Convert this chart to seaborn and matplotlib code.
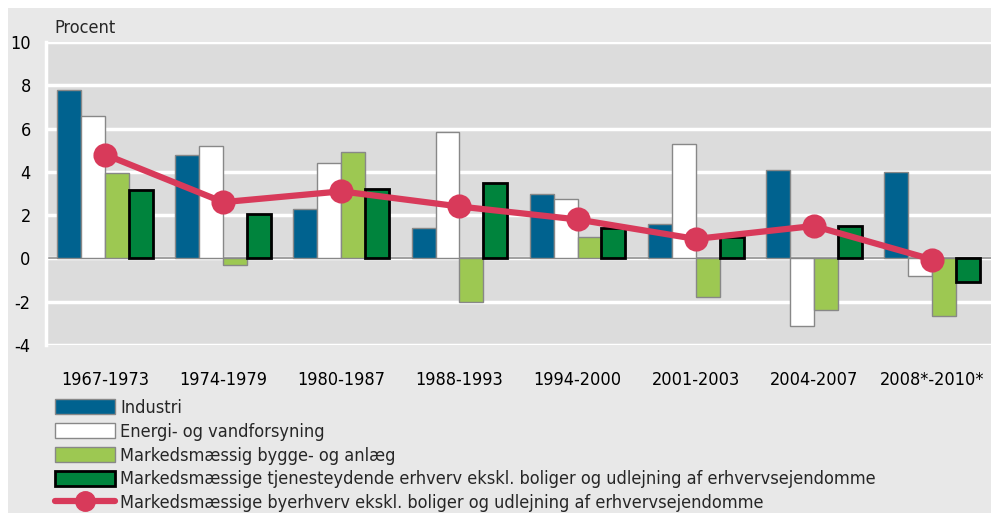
import matplotlib
matplotlib.use("Agg")
import matplotlib.pyplot as plt
import matplotlib.patches as mpatches
from matplotlib.lines import Line2D
import seaborn as sns
import pandas as pd

periods = ["1967-1973", "1974-1979", "1980-1987", "1988-1993",
           "1994-2000", "2001-2003", "2004-2007", "2008*-2010*"]

industri = [7.8, 4.8, 2.3, 1.4, 3.0, 1.6, 4.1, 4.0]
energi = [6.6, 5.2, 4.4, 5.85, 2.75, 5.3, -3.1, -0.8]
bygge = [3.95, -0.3, 4.9, -2.0, 1.0, -1.8, -2.4, -2.65]
tjeneste = [3.15, 2.05, 3.2, 3.5, 1.4, 1.0, 1.5, -1.1]
byerhverv = [4.8, 2.6, 3.1, 2.4, 1.8, 0.9, 1.5, -0.05]

names = ["Industri",
         "Energi- og vandforsyning",
         "Markedsmæssig bygge- og anlæg",
         "Markedsmæssige tjenesteydende erhverv ekskl. boliger og udlejning af erhvervsejendomme"]
line_name = "Markedsmæssige byerhverv ekskl. boliger og udlejning af erhvervsejendomme"

colors = ["#00628f", "#ffffff", "#9dc852", "#00843d"]
line_color = "#d83a5a"

df = pd.DataFrame({"periode": periods * 4,
                   "serie": sum([[n] * len(periods) for n in names], []),
                   "vaerdi": industri + energi + bygge + tjeneste})

sns.set_style("white")
plt.rcParams['font.family'] = ['DejaVu Sans']
plt.rcParams['font.stretch'] = 'condensed'
plt.rcParams['axes.unicode_minus'] = False

fig = plt.figure(figsize=(9.91, 5.13), dpi=100)
fig.patch.set_facecolor("white")
fig.patches.append(mpatches.Rectangle((8 / 991, 0), 1, 1 - 8 / 513, transform=fig.transFigure,
                                      facecolor="#e8e8e8", edgecolor="none", zorder=-10))

ax = fig.add_axes([46 / 991, 1 - 345 / 513, 1 - 46 / 991, 303 / 513])
ax.set_facecolor("#dcdcdc")

sns.barplot(data=df, x="periode", y="vaerdi", hue="serie", palette=colors, saturation=1,
            width=0.81, edgecolor="#888888", linewidth=1, ax=ax, legend=False, zorder=3)
for bar in ax.containers[3]:
    bar.set_edgecolor("black")
    bar.set_linewidth(2)

ax.axhline(0, color="#999999", lw=1.3, zorder=2.5)

sns.pointplot(x=periods, y=byerhverv, color=line_color, markers="o", markersize=14,
              linewidth=4.5, ax=ax, zorder=5)

ax.set_ylim(-4, 10)
ax.set_xlim(-0.5, len(periods) - 0.5)
ax.set_yticks(range(-4, 11, 2))
ax.yaxis.grid(True, color="white", lw=2.5, zorder=0)
ax.set_axisbelow(True)
for s in ["top", "right", "bottom"]:
    ax.spines[s].set_visible(False)
ax.spines["left"].set_color("white")
ax.spines["left"].set_linewidth(2.5)
ax.tick_params(axis="both", length=0, labelsize=13, colors="black")
ax.tick_params(axis="x", pad=19)
ax.tick_params(axis="y", pad=11)
ax.set_xlabel("")
ax.set_ylabel("")

fig.text(54 / 991, 1 - 28 / 513, "Procent", fontsize=13, va="center", ha="left")

handles = [mpatches.Patch(facecolor=colors[0], edgecolor="#888888"),
           mpatches.Patch(facecolor=colors[1], edgecolor="#888888"),
           mpatches.Patch(facecolor=colors[2], edgecolor="#888888"),
           mpatches.Patch(facecolor=colors[3], edgecolor="black", linewidth=2),
           Line2D([0], [0], color=line_color, lw=4.5, marker="o", markersize=14)]
fig.legend(handles, names + [line_name], loc="upper left",
           bbox_to_anchor=(55 / 991, 1 - 399 / 513), frameon=False, fontsize=13,
           handlelength=3.3, handleheight=0.9, handletextpad=0.3, labelspacing=0.32,
           borderpad=0, borderaxespad=0)

fig.savefig("out.png", dpi=100, facecolor=fig.get_facecolor())
